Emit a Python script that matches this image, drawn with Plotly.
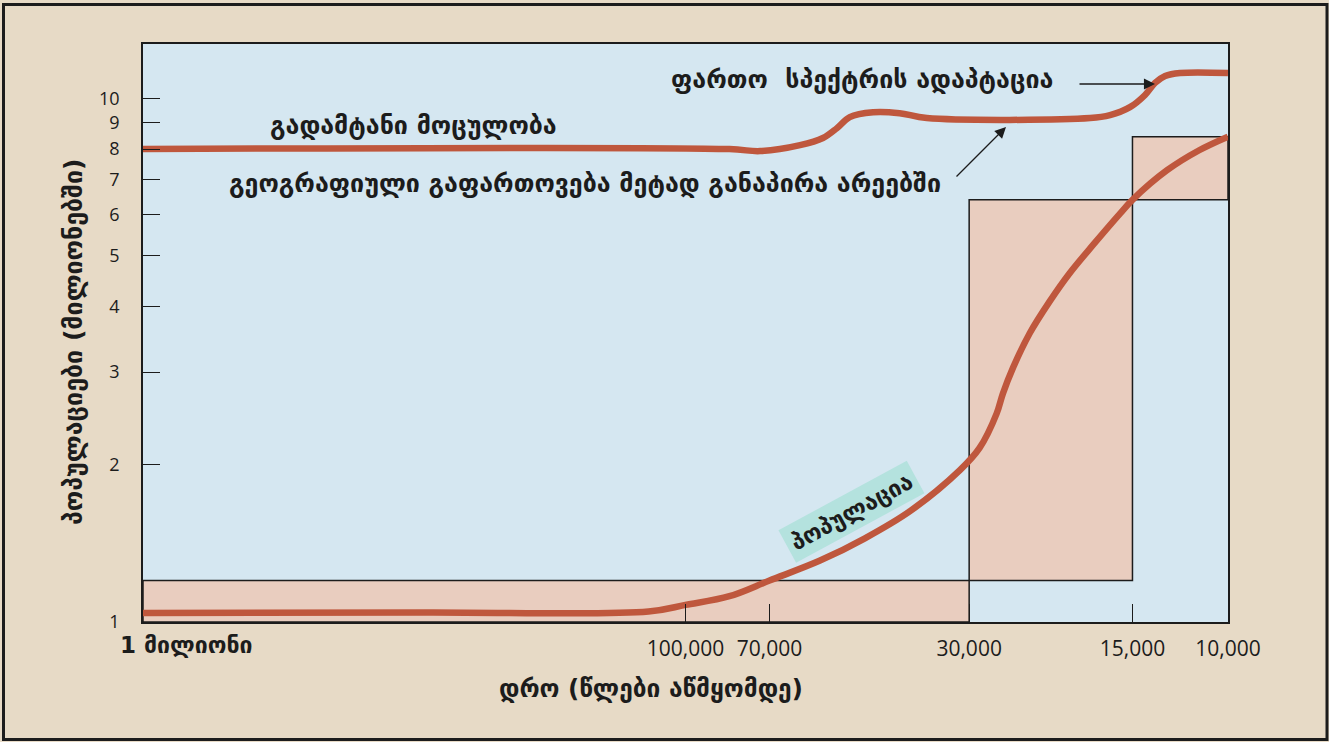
import math
import plotly.graph_objects as go

# ---- data -------------------------------------------------------------
# population curve (years before present, population in millions)
pop_years = [1000000, 300000, 117000, 100000, 83000, 70000, 56500, 46700,
             38500, 31200, 28700, 26700, 26000, 24900, 23200, 21300,
             19600, 17700, 15800, 15000, 12950, 11300, 10000]
pop_values = [1.04, 1.043, 1.047, 1.078, 1.12, 1.2, 1.31, 1.445,
              1.63, 1.95, 2.15, 2.5, 2.73, 3.06, 3.56, 4.1,
              4.63, 5.26, 6.03, 6.4, 7.29, 7.96, 8.45]

# carrying capacity curve
cap_years = [1000000, 83000, 72900, 61500, 55800, 52600, 49800, 45100,
             40300, 35900, 17950, 16500, 15160, 14220, 13630, 13060,
             12260, 10000]
cap_values = [8.0, 8.0, 7.93, 8.14, 8.4, 8.77, 9.21, 9.41,
              9.37, 9.17, 9.17, 9.29, 9.62, 10.15, 10.7, 11.03,
              11.18, 11.18]

# population ranges per period: (start year, end year, low, high)
period_start = [1000000, 30000, 15000]
period_end = [30000, 15000, 10000]
period_low = [1.0, 1.2, 6.4]
period_high = [1.2, 6.4, 8.45]

x_tick_vals = [100000, 70000, 30000, 15000, 10000]
x_tick_text = ["100,000", "70,000", "30,000", "15,000", "10,000"]
y_tick_vals = [1, 2, 3, 4, 5, 6, 7, 8, 9, 10]

# ---- styling ----------------------------------------------------------
PAPER = "#e7dac6"
PLOT_BG = "#d5e7f1"
BOX_FILL = "#e9cdbf"
RED = "#bf573d"
TEAL = "#b4e2de"
INK = "#1c1c1c"
GEO = "DejaVu Sans"
NUM = "Open Sans"

W, H = 1329, 742
L, R, T, B = 143, 101, 44, 120
PW, PH = W - L - R, H - T - B


def px(x):
    return (x - L) / PW


def py(y):
    return (T + PH - y) / PH


fig = go.Figure()

for x0, x1, y0, y1 in zip(period_start, period_end, period_low, period_high):
    fig.add_trace(go.Scatter(
        x=[x0, x1, x1, x0, x0], y=[y0, y0, y1, y1, y0],
        mode="lines", fill="toself", fillcolor=BOX_FILL,
        line=dict(color=INK, width=1.5), hoverinfo="skip", showlegend=False))

fig.add_trace(go.Scatter(
    x=cap_years, y=cap_values, mode="lines",
    line=dict(color=RED, width=6.5, shape="spline", smoothing=1.0),
    showlegend=False))

fig.add_trace(go.Scatter(
    x=pop_years, y=pop_values, mode="lines",
    line=dict(color=RED, width=6.5, shape="spline", smoothing=1.0),
    showlegend=False))

geo_bold = dict(family=GEO, size=25, color=INK, weight="bold")


def label(text, x, y, font=geo_bold, **kw):
    fig.add_annotation(xref="paper", yref="paper", x=px(x), y=py(y),
                       text=text, showarrow=False, xanchor="center",
                       yanchor="middle", font=font, **kw)


label("გადამტანი მოცულობა", 413, 125)
label("გეოგრაფიული გაფართოვება მეტად განაპირა არეებში", 585, 183)
label("ფართო  სპექტრის ადაპტაცია", 862, 80)

# arrows
for (tx, ty), (hx, hy) in [((1078, 84), (1155, 84)), ((955, 178), (1006, 127))]:
    fig.add_annotation(xref="paper", yref="paper", x=px(hx), y=py(hy),
                       ax=tx - hx, ay=ty - hy, text="", showarrow=True,
                       arrowhead=2, arrowsize=1.7, arrowwidth=1.3,
                       arrowcolor=INK, standoff=0)

# rotated curve label
label("პოპულაცია", 851, 512, textangle=-28.5, bgcolor=TEAL, borderpad=5,
      font=dict(family=GEO, size=23, color=INK, weight="bold"))

# axis titles and the left time label
fig.add_annotation(xref="paper", yref="paper", x=px(118), y=py(645),
                   xanchor="left", yanchor="middle", text="1 მილიონი",
                   showarrow=False,
                   font=dict(family=GEO, size=23, color=INK, weight="bold"))
label("დრო (წლები აწმყომდე)", 651, 688,
      font=dict(family=GEO, size=24.5, color=INK, weight="bold"))
label("პოპულაციები (მილიონებში)", 73, 342, textangle=-90)

# outer frame
fig.add_shape(type="rect", xref="paper", yref="paper",
              x0=px(3.5), x1=px(1327), y0=py(739.5), y1=py(4.5),
              line=dict(color=INK, width=3), fillcolor="rgba(0,0,0,0)",
              layer="below")

fig.update_xaxes(type="log", range=[6, 4], autorange=False,
                 tickvals=x_tick_vals, ticktext=x_tick_text,
                 ticks="inside", ticklen=18, tickwidth=1.3, tickcolor=INK,
                 showline=True, mirror=True, linecolor=INK, linewidth=1.5,
                 showgrid=False, zeroline=False, ticklabelstandoff=7,
                 tickfont=dict(family=NUM, size=21, color=INK))
fig.update_yaxes(type="log", range=[0, math.log10(12.7)], autorange=False,
                 tickvals=y_tick_vals, ticktext=[str(v) for v in y_tick_vals],
                 ticks="inside", ticklen=17, tickwidth=1.3, tickcolor=INK,
                 showline=True, mirror=True, linecolor=INK, linewidth=1.5,
                 showgrid=False, zeroline=False, ticklabelstandoff=18,
                 tickfont=dict(family=NUM, size=18, color=INK))

fig.update_layout(width=W, height=H, margin=dict(l=L, r=R, t=T, b=B),
                  paper_bgcolor=PAPER, plot_bgcolor=PLOT_BG,
                  showlegend=False, hovermode=False)

fig.write_html("out.html")
